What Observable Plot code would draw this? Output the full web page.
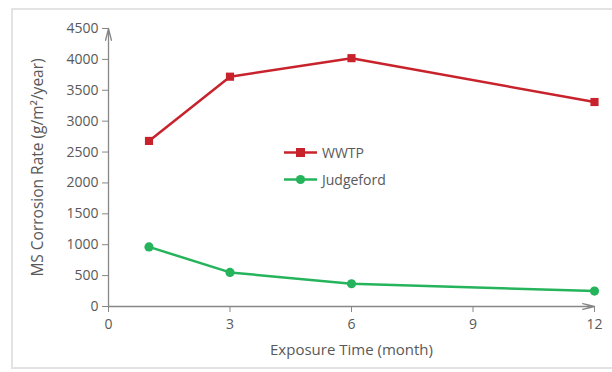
<!DOCTYPE html>
<html>
<head>
<meta charset="utf-8">
<script src="https://cdn.jsdelivr.net/npm/d3@7"></script>
<script src="https://cdn.jsdelivr.net/npm/@observablehq/plot@0.6"></script>
<style>
  html, body { margin: 0; padding: 0; background: #fff; }
  #wrap { position: relative; width: 612px; height: 372px; overflow: hidden; font-family: "Open Sans", Lato, sans-serif; }
  #frame { position: absolute; left: 11px; top: 8px; width: 620px; height: 361px; border: 2px solid #E3E3E3; box-sizing: border-box; }
  #chart { position: absolute; left: 0; top: 0; }
  #legend { position: absolute; left: 284px; top: 139px; font-size: 14px; color: #595959; }
  .row { display: flex; align-items: center; height: 27px; }
  .row svg { margin-right: 4px; }
</style>
</head>
<body>
<div id="wrap">
  <div id="frame"></div>
  <div id="chart"></div>
  <div id="legend"></div>
</div>
<script>
// Data
const months = [1, 3, 6, 12];
const wwtp = [2680, 3720, 4020, 3310];
const judgeford = [965, 552, 368, 250];
const seriesNames = ["WWTP", "Judgeford"];
const seriesColors = ["#C8232C", "#25B45B"];
const seriesSymbols = ["square", "circle"];
const xTicks = [0, 3, 6, 9, 12];
const yTicks = [0, 500, 1000, 1500, 2000, 2500, 3000, 3500, 4000, 4500];
const xLabel = "Exposure Time (month)";
const yLabel = "MS Corrosion Rate (g/m²/year)";

const rows = [];
months.forEach((m, i) => rows.push({series: seriesNames[0], month: m, value: wwtp[i]}));
months.forEach((m, i) => rows.push({series: seriesNames[1], month: m, value: judgeford[i]}));

const axisGray = "#878787";
const textGray = "#595959";
const xDom = [xTicks[0], xTicks[xTicks.length - 1]];
const yDom = [yTicks[0], yTicks[yTicks.length - 1]];
const fmt = d => String(d);

const chart = Plot.plot({
  width: 612,
  height: 372,
  marginLeft: 108,
  marginRight: 18,
  marginTop: 28,
  marginBottom: 66,
  style: {fontFamily: "'Open Sans', Lato, sans-serif", fontSize: "14px", color: textGray, background: "transparent"},
  x: {domain: xDom},
  y: {domain: yDom},
  color: {domain: seriesNames, range: seriesColors},
  symbol: {domain: seriesNames, range: seriesSymbols},
  marks: [
    Plot.axisY({ticks: yTicks, tickSize: 6, tickFormat: () => "", stroke: axisGray, label: null}),
    Plot.axisY({ticks: yTicks, tickSize: 0, tickPadding: 10, tickFormat: fmt, fill: textGray, fontSize: 14, label: null}),
    Plot.axisY({ticks: [], tickSize: 0, label: yLabel, labelAnchor: "center", labelOffset: 77, labelArrow: "none", fill: textGray, fontSize: 15.5}),
    Plot.axisX({ticks: xTicks, tickSize: 6, tickFormat: () => "", stroke: axisGray, label: null}),
    Plot.axisX({ticks: xTicks, tickSize: 0, tickPadding: 13, tickFormat: fmt, fill: textGray, fontSize: 14, label: null}),
    Plot.axisX({ticks: [], tickSize: 0, label: xLabel, labelAnchor: "center", labelOffset: 48, labelArrow: "none", fill: textGray, fontSize: 15}),
    Plot.arrow([0], {x1: xDom[0], x2: xDom[0], y1: yDom[0], y2: yDom[1], stroke: axisGray, strokeWidth: 1.3, headLength: 14, headAngle: 28}),
    Plot.arrow([0], {x1: xDom[0], x2: xDom[1], y1: yDom[0], y2: yDom[0], stroke: axisGray, strokeWidth: 1.3, headLength: 14, headAngle: 28}),
    Plot.line(rows, {x: "month", y: "value", z: "series", stroke: "series", strokeWidth: 2.5}),
    Plot.dot(rows, {x: "month", y: "value", fill: "series", symbol: "series", r: 4.6, stroke: null})
  ]
});
document.getElementById("chart").appendChild(chart);

// Legend
const legend = document.getElementById("legend");
seriesNames.forEach((name, i) => {
  const row = document.createElement("div");
  row.className = "row";
  const c = seriesColors[i];
  const marker = seriesSymbols[i] === "square"
    ? `<rect x="12" y="2" width="9" height="9" fill="${c}"/>`
    : `<circle cx="16.5" cy="6.5" r="4.6" fill="${c}"/>`;
  row.innerHTML = `<svg width="34" height="13"><line x1="0" x2="33" y1="6.5" y2="6.5" stroke="${c}" stroke-width="2.5"/>${marker}</svg><span>${name}</span>`;
  legend.appendChild(row);
});
</script>
</body>
</html>
